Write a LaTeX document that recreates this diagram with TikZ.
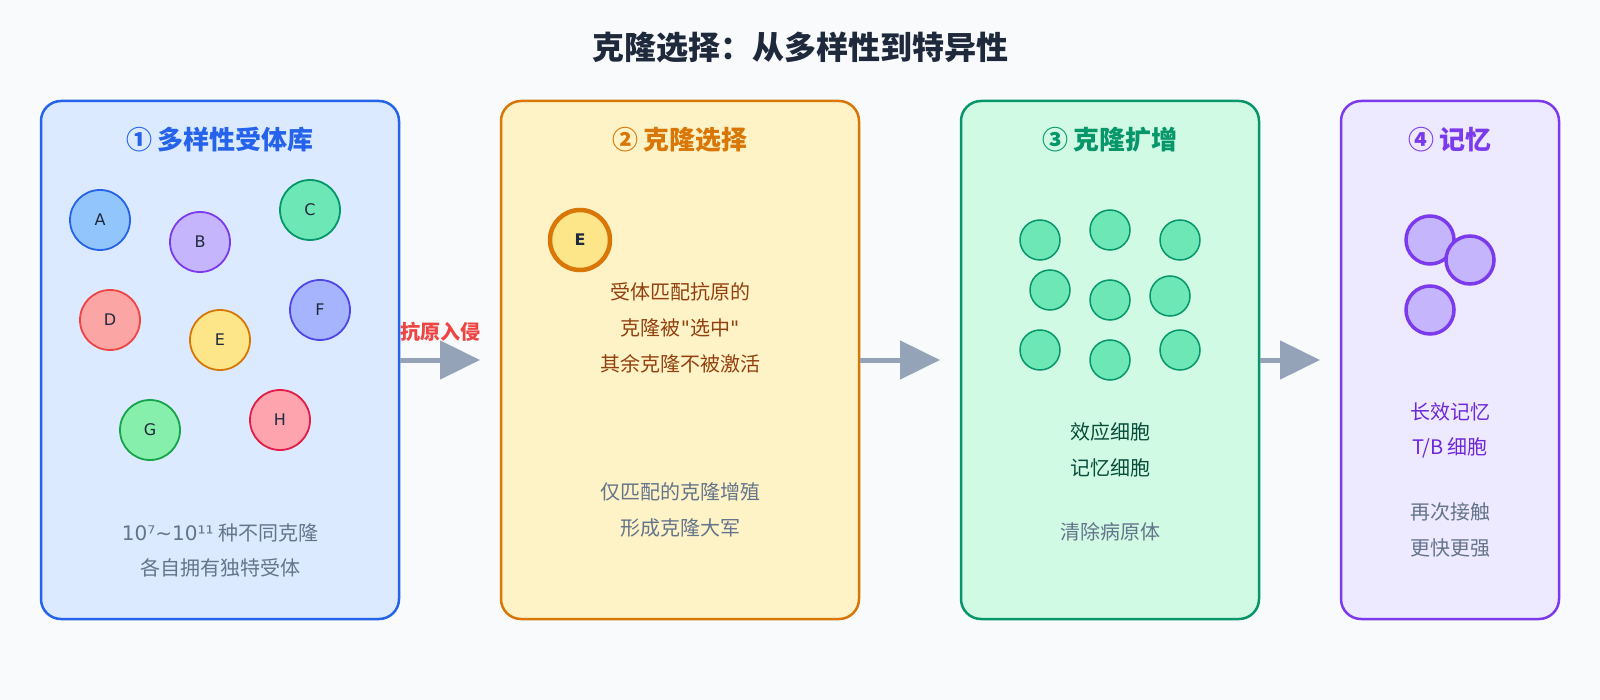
\documentclass[tikz,border=0pt]{standalone}
\usepackage{fontspec}
\setmainfont{Noto Sans CJK SC}
\newfontfamily\dejavu{DejaVu Sans}
\usetikzlibrary{arrows.meta}
\definecolor{bg}{HTML}{F8FAFC}
\definecolor{ink}{HTML}{1E293B}
\definecolor{muted}{HTML}{64748B}
\definecolor{blueS}{HTML}{2563EB}\definecolor{blueF}{HTML}{DBEAFE}
\definecolor{ambS}{HTML}{D97706}\definecolor{ambF}{HTML}{FEF3C7}
\definecolor{grnS}{HTML}{059669}\definecolor{grnF}{HTML}{D1FAE5}
\definecolor{purS}{HTML}{7C3AED}\definecolor{purF}{HTML}{EDE9FE}
\definecolor{brown}{HTML}{92400E}
\definecolor{dgreen}{HTML}{064E3B}
\definecolor{dpurple}{HTML}{6D28D9}
\definecolor{arrowc}{HTML}{94A3B8}
\definecolor{redc}{HTML}{EF4444}
\definecolor{cA}{HTML}{93C5FD}
\definecolor{cB}{HTML}{C4B5FD}
\definecolor{cC}{HTML}{6EE7B7}
\definecolor{cD}{HTML}{FCA5A5}
\definecolor{cE}{HTML}{FDE68A}
\definecolor{cF}{HTML}{A5B4FC}
\definecolor{cG}{HTML}{86EFAC}\definecolor{sG}{HTML}{16A34A}
\definecolor{cH}{HTML}{FDA4AF}\definecolor{sH}{HTML}{E11D48}
\definecolor{sF}{HTML}{4F46E5}
\tikzset{
  panel/.style={rectangle, rounded corners=20pt, line width=2.5pt, inner sep=0pt, minimum height=518pt},
  hdr/.style={font=\fontsize{26}{30}\selectfont\bfseries, inner sep=0pt},
  body/.style={font=\fontsize{20}{24}\selectfont, inner sep=0pt},
  cell/.style={circle, minimum size=60pt, inner sep=0pt, line width=1.8pt, font=\dejavu\fontsize{16}{18}\selectfont, text=ink},
  small/.style={circle, minimum size=40pt, inner sep=0pt, line width=1.5pt, draw=grnS, fill=cC},
  mem/.style={circle, minimum size=48pt, inner sep=0pt, line width=3.5pt, draw=purS, fill=cB},
  arr/.style={draw=arrowc, line width=5pt, -{Triangle[length=40pt,width=38pt]}}
}
\begin{document}
\begin{tikzpicture}[x=1pt,y=-1pt]
\fill[bg] (0,0) rectangle (1600,700);
\useasboundingbox (0,0) rectangle (1600,700);
\node[font=\fontsize{32}{36}\selectfont\bfseries, text=ink, inner sep=0pt] (title) at (800,48) {克隆选择：从多样性到特异性};
% panels
\node[panel, draw=blueS, fill=blueF, minimum width=358pt] (p1) at (220,360) {};
\node[panel, draw=ambS, fill=ambF, minimum width=358pt] (p2) at (680,360) {};
\node[panel, draw=grnS, fill=grnF, minimum width=298pt] (p3) at (1110,360) {};
\node[panel, draw=purS, fill=purF, minimum width=218pt] (p4) at (1450,360) {};
% headers
\node[hdr, text=blueS] (h1) at (220,140) {① 多样性受体库};
\node[hdr, text=ambS] (h2) at (680,140) {② 克隆选择};
\node[hdr, text=grnS] (h3) at (1110,140) {③ 克隆扩增};
\node[hdr, text=purS] (h4) at (1450,140) {④ 记忆};
% panel 1 cells
\node[cell, draw=blueS, fill=cA] (A) at (100,220) {A};
\node[cell, draw=purS, fill=cB] (B) at (200,242) {B};
\node[cell, draw=grnS, fill=cC] (C) at (310,210) {C};
\node[cell, draw=redc, fill=cD] (D) at (110,320) {D};
\node[cell, draw=ambS, fill=cE] (E) at (220,340) {E};
\node[cell, draw=sF, fill=cF] (F) at (320,310) {F};
\node[cell, draw=sG, fill=cG] (G) at (150,430) {G};
\node[cell, draw=sH, fill=cH] (H) at (280,420) {H};
\node[body, text=muted] (t11) at (220,533) {{\dejavu 10⁷\textasciitilde10¹¹} 种不同克隆};
\node[body, text=muted] (t12) at (220,568) {各自拥有独特受体};
% panel 2
\node[cell, draw=ambS, fill=cE, line width=4.5pt, font=\dejavu\bfseries\fontsize{16}{18}\selectfont] (E2) at (580,240) {E};
\node[body, text=brown] (t21) at (680,292) {受体匹配抗原的};
\node[body, text=brown] (t22) at (680,328) {克隆被{\dejavu "}选中{\dejavu "}};
\node[body, text=brown] (t23) at (680,364) {其余克隆不被激活};
\node[body, text=muted] (t24) at (680,492) {仅匹配的克隆增殖};
\node[body, text=muted] (t25) at (680,528) {形成克隆大军};
% panel 3
\node[small] (s1) at (1040,240) {};
\node[small] (s2) at (1110,230) {};
\node[small] (s3) at (1180,240) {};
\node[small] (s4) at (1050,290) {};
\node[small] (s5) at (1110,300) {};
\node[small] (s6) at (1170,296) {};
\node[small] (s7) at (1040,350) {};
\node[small] (s8) at (1110,360) {};
\node[small] (s9) at (1180,350) {};
\node[body, text=dgreen] (t31) at (1110,432) {效应细胞};
\node[body, text=dgreen] (t32) at (1110,468) {记忆细胞};
\node[body, text=muted] (t33) at (1110,532) {清除病原体};
% panel 4
\node[mem] (m1) at (1430,240) {};
\node[mem] (m2) at (1470,260) {};
\node[mem] (m3) at (1430,310) {};
\node[body, text=dpurple] (t41) at (1450,412) {长效记忆};
\node[body, text=dpurple] (t42) at (1450,448) {T/B 细胞};
\node[body, text=muted] (t43) at (1450,512) {再次接触};
\node[body, text=muted] (t44) at (1450,548) {更快更强};
% arrows
\coordinate (e1) at (480,360);
\coordinate (e2) at (940,360);
\coordinate (e3) at (1320,360);
\draw[arr] (p1.east |- e1) -- (e1);
\draw[arr] (p2.east |- e2) -- (e2);
\draw[arr] (p3.east |- e3) -- (e3);
\node[font=\fontsize{20}{24}\selectfont\bfseries, text=redc, inner sep=0pt] (lab) at (440,332) {抗原入侵};
\end{tikzpicture}
\end{document}
